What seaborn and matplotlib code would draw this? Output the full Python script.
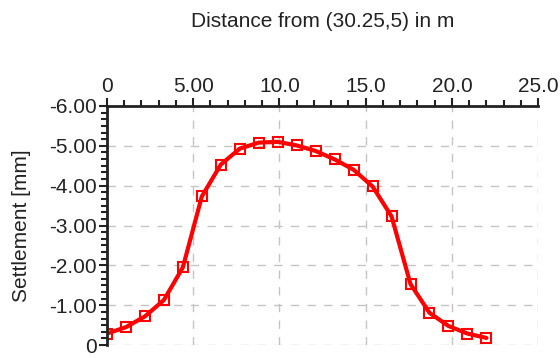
import numpy as np
import pandas as pd
import matplotlib
matplotlib.use("Agg")
import matplotlib.pyplot as plt
import seaborn as sns
from matplotlib.ticker import AutoMinorLocator

distance = [0.0, 1.1, 2.2, 3.3, 4.4, 5.5, 6.6, 7.7, 8.8, 9.9, 11.0,
            12.1, 13.2, 14.3, 15.4, 16.5, 17.6, 18.7, 19.8, 20.9, 22.0]
settlement = [-0.29, -0.45, -0.72, -1.13, -1.95, -3.73, -4.53, -4.93, -5.08, -5.10, -5.01,
              -4.87, -4.66, -4.40, -3.98, -3.23, -1.53, -0.81, -0.48, -0.29, -0.18]
xticks = [0, 5, 10, 15, 20, 25]
xticklabels = ["0", "5.00", "10.0", "15.0", "20.0", "25.0"]
yticks = [-6, -5, -4, -3, -2, -1, 0]
yticklabels = ["-6.00", "-5.00", "-4.00", "-3.00", "-2.00", "-1.00", "0"]

df = pd.DataFrame({"x": distance, "y": settlement})

sns.set_style("white")
plt.rcParams['font.family'] = ['Liberation Sans', 'DejaVu Sans']

fig = plt.figure(figsize=(5.6, 3.58), dpi=100)
ax = fig.add_axes([0.191, 0.036, 0.770, 0.668])

sns.lineplot(data=df, x="x", y="y", ax=ax, color="red", linewidth=3,
             marker="s", markersize=7, markerfacecolor="none",
             markeredgecolor="red", markeredgewidth=1.5)

ax.set_xlim(0, 25)
ax.set_ylim(0, -6)
ax.set_xticks(xticks)
ax.set_xticklabels(xticklabels)
ax.set_yticks(yticks)
ax.set_yticklabels(yticklabels)
ax.xaxis.set_minor_locator(AutoMinorLocator(5))
ax.yaxis.set_minor_locator(AutoMinorLocator(6))

ax.xaxis.tick_top()
ax.xaxis.set_label_position("top")
ax.tick_params(axis="both", which="major", direction="out", length=6, width=1.5,
               labelsize=15, colors="#222222", pad=1)
ax.tick_params(axis="both", which="minor", direction="out", length=4, width=1.5,
               colors="#222222")
ax.tick_params(axis="x", which="both", top=True, bottom=False)
ax.tick_params(axis="y", which="both", left=True, right=False)

ax.grid(True, which="major", color="#c4c4c4", linestyle=(0, (6, 6)), linewidth=1)

for s in ["right", "bottom"]:
    ax.spines[s].set_visible(False)
for s in ["left", "top"]:
    ax.spines[s].set_color("#222222")
    ax.spines[s].set_linewidth(2)

ax.set_xlabel("Distance from (30.25,5) in m", fontsize=15, color="#222222", labelpad=36)
ax.set_ylabel("Settlement [mm]", fontsize=15, color="#222222", labelpad=13)

fig.savefig("out.png", dpi=100)
